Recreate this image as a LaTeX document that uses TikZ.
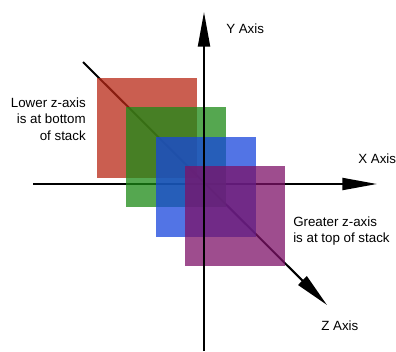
\documentclass[tikz,border=0pt]{standalone}
\usepackage{fontspec}
\setmainfont{Liberation Sans}
\usetikzlibrary{arrows.meta}
\definecolor{planered}{RGB}{184,40,22}
\definecolor{planegreen}{RGB}{28,138,22}
\definecolor{planeblue}{RGB}{24,70,220}
\definecolor{planepurple}{RGB}{125,18,104}
\begin{document}
\begin{tikzpicture}[x=0.75pt,y=-0.75pt,
    axis/.style={line width=1.5pt,-{Triangle[length=26pt,width=9pt]}},
    plane/.style={minimum size=75pt,inner sep=0pt,fill opacity=0.75},
    label/.style={inner sep=0pt,font=\fontsize{10}{12.4}\selectfont}]
  \useasboundingbox (0,0) rectangle (396,351);
  \coordinate (o) at (204,184);
  \coordinate (xstart) at (33,184);
  \coordinate (xend) at (377,184);
  \coordinate (zstart) at (83,62);
  \coordinate (zend) at (327,305);
  \coordinate (ystart) at (204,351);
  \coordinate (yend) at (204,12);
  \draw[axis] (xstart) -- (xend);
  \draw[axis] (zstart) -- (zend);
  \node[plane,fill=planered]    (red)    at (147,128) {};
  \node[plane,fill=planegreen]  (green)  at (176,157) {};
  \node[plane,fill=planeblue]   (blue)   at (206,187) {};
  \node[plane,fill=planepurple] (purple) at (235,216) {};
  \draw[axis] (ystart) -- (yend);
  \node[label,anchor=west] (ylabel) at (226,29)  {Y Axis};
  \node[label,anchor=west] (xlabel) at (358,159) {X Axis};
  \node[label,anchor=west] (zlabel) at (321,326) {Z Axis};
  \node[label,anchor=east,align=right] (lower) at (86,119)
    {Lower z-axis\\is at bottom\\of stack};
  \node[label,anchor=west,align=left] (greater) at (293,231)
    {Greater z-axis\\is at top of stack};
\end{tikzpicture}
\end{document}
